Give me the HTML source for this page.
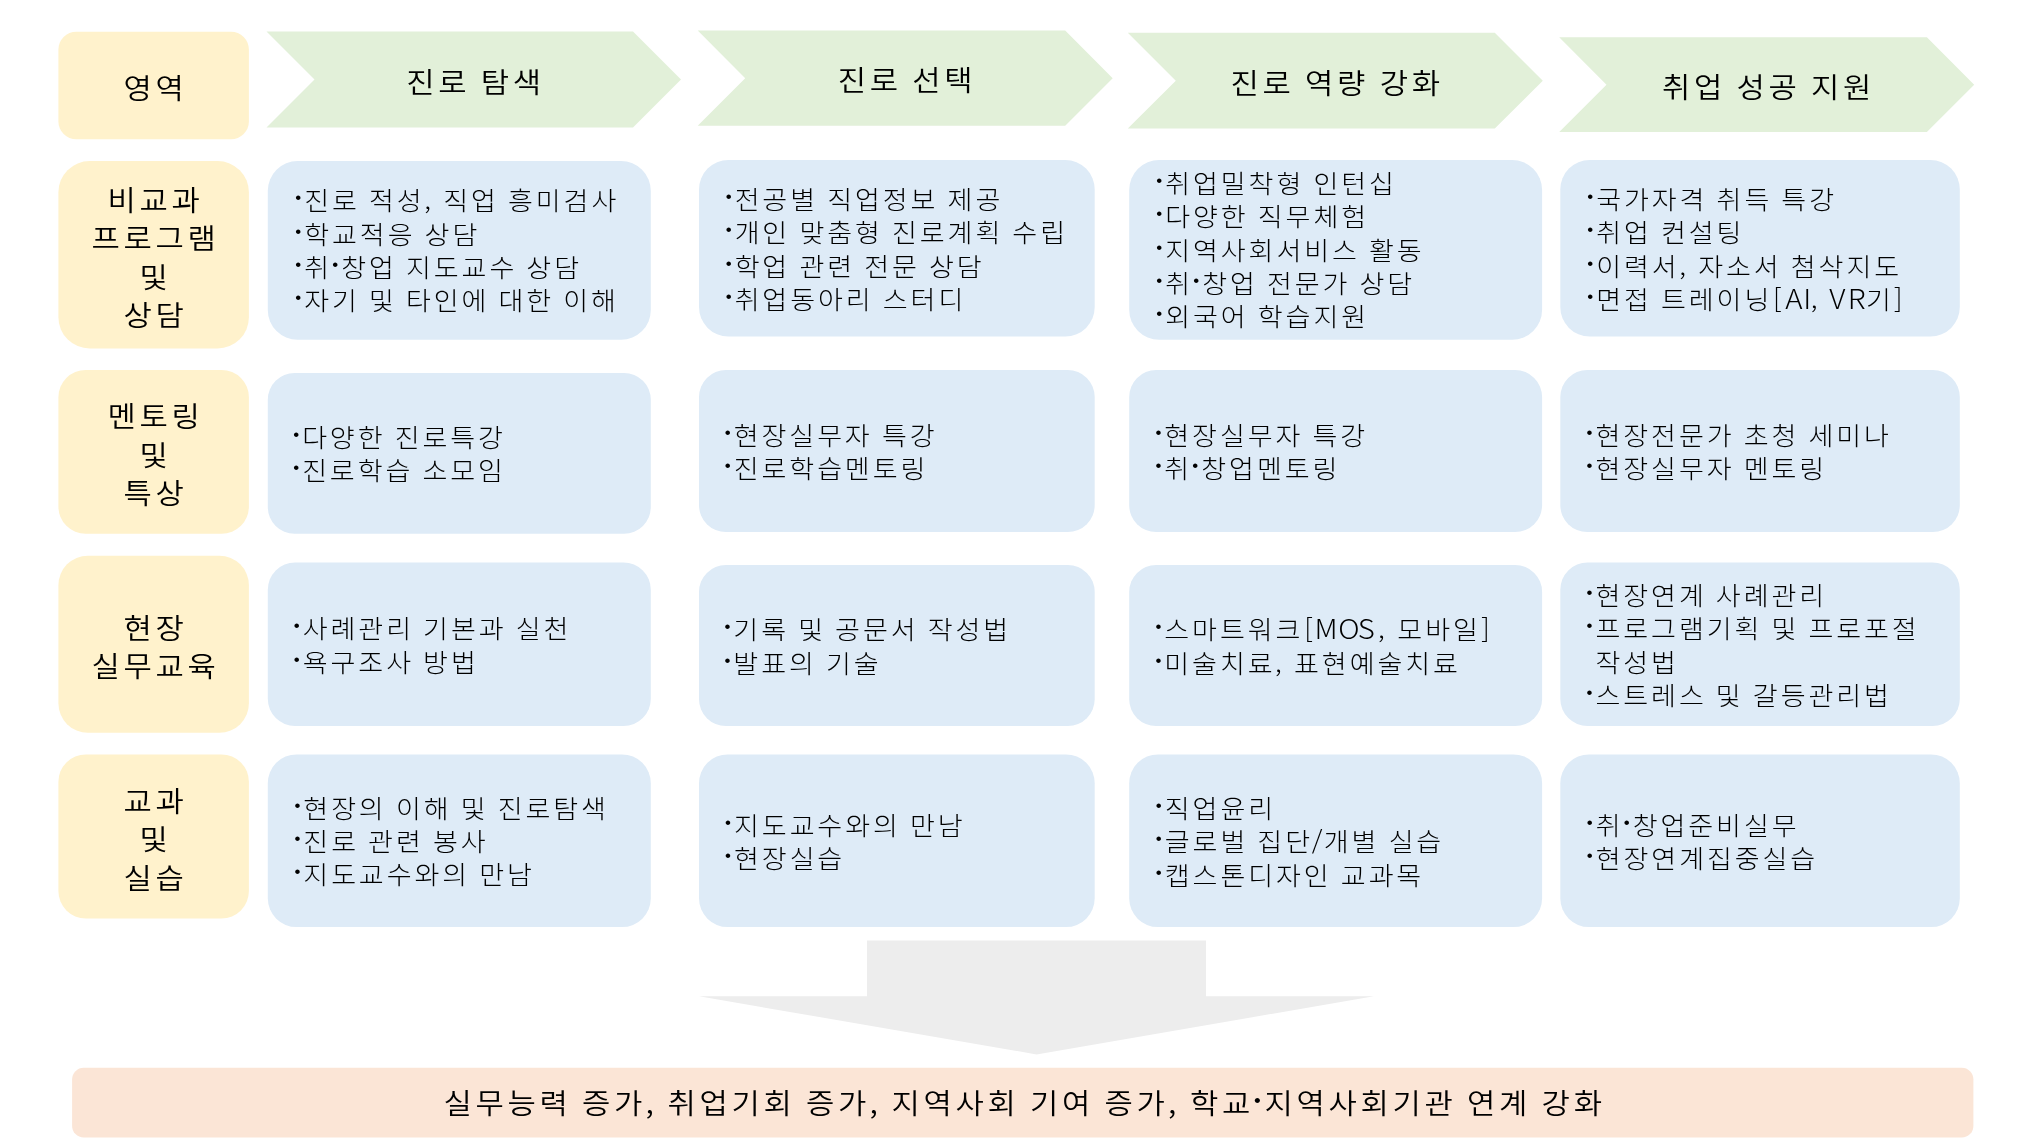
<!DOCTYPE html>
<html lang="ko">
<head>
<meta charset="utf-8">
<title>진로 로드맵</title>
<style>
html,body{margin:0;padding:0;background:#fff;}
body{width:2035px;height:1143px;overflow:hidden;}
svg{display:block;}
text{font-family:"Liberation Sans","Noto Sans CJK KR",sans-serif;fill:#000;white-space:pre;}
.b{font-size:25.3px;font-weight:300;}
.h{font-size:28.8px;font-weight:350;}
.l{font-family:"Noto Sans CJK KR","Liberation Sans",sans-serif;font-size:1.087em;}
.p{font-family:"Noto Sans CJK KR","Liberation Sans",sans-serif;}
.d{font-family:"Noto Sans CJK KR",sans-serif;font-weight:400;font-size:1.25em;}
</style>
</head>
<body>
<svg width="2035" height="1143" viewBox="0 0 2035 1143">
<g id="shapes">
<rect x="58.4" y="31.7" width="190.5" height="107.6" rx="17.9" ry="17.9" fill="#FFF2CC"/>
<polygon points="266.5,31.6 633.0,31.6 681.0,79.6 633.0,127.6 266.5,127.6 314.5,79.6" fill="#E2F0D9"/>
<polygon points="697.7,30.6 1065.2,30.6 1112.7,78.2 1065.2,125.7 697.7,125.7 745.2,78.2" fill="#E2F0D9"/>
<polygon points="1127.8,32.7 1494.8,32.7 1542.8,80.7 1494.8,128.6 1127.8,128.6 1175.8,80.7" fill="#E2F0D9"/>
<polygon points="1559.2,37.3 1926.9,37.3 1974.2,84.7 1926.9,132.0 1559.2,132.0 1606.5,84.7" fill="#E2F0D9"/>
<rect x="58.4" y="161.0" width="190.5" height="187.5" rx="31.3" ry="31.3" fill="#FFF2CC"/>
<rect x="58.4" y="370.0" width="190.5" height="163.8" rx="27.3" ry="27.3" fill="#FFF2CC"/>
<rect x="58.4" y="555.7" width="190.5" height="177.1" rx="29.5" ry="29.5" fill="#FFF2CC"/>
<rect x="58.4" y="754.4" width="190.5" height="164.1" rx="27.4" ry="27.4" fill="#FFF2CC"/>
<rect x="267.8" y="161.0" width="383.0" height="178.8" rx="29.8" ry="29.8" fill="#DEEBF7"/>
<rect x="699.0" y="160.0" width="395.7" height="176.5" rx="29.4" ry="29.4" fill="#DEEBF7"/>
<rect x="1129.2" y="160.0" width="412.9" height="179.8" rx="30.0" ry="30.0" fill="#DEEBF7"/>
<rect x="1560.3" y="160.0" width="399.5" height="176.5" rx="29.4" ry="29.4" fill="#DEEBF7"/>
<rect x="267.8" y="373.0" width="383.0" height="160.8" rx="26.8" ry="26.8" fill="#DEEBF7"/>
<rect x="699.0" y="370.0" width="395.7" height="162.1" rx="27.0" ry="27.0" fill="#DEEBF7"/>
<rect x="1129.2" y="370.0" width="412.9" height="162.1" rx="27.0" ry="27.0" fill="#DEEBF7"/>
<rect x="1560.3" y="370.0" width="399.5" height="162.1" rx="27.0" ry="27.0" fill="#DEEBF7"/>
<rect x="267.8" y="562.4" width="383.0" height="163.7" rx="27.3" ry="27.3" fill="#DEEBF7"/>
<rect x="699.0" y="565.0" width="395.7" height="161.1" rx="26.9" ry="26.9" fill="#DEEBF7"/>
<rect x="1129.2" y="565.0" width="412.9" height="161.1" rx="26.9" ry="26.9" fill="#DEEBF7"/>
<rect x="1560.3" y="562.4" width="399.5" height="163.7" rx="27.3" ry="27.3" fill="#DEEBF7"/>
<rect x="267.8" y="754.4" width="383.0" height="172.7" rx="28.8" ry="28.8" fill="#DEEBF7"/>
<rect x="699.0" y="754.4" width="395.7" height="172.7" rx="28.8" ry="28.8" fill="#DEEBF7"/>
<rect x="1129.2" y="754.4" width="412.9" height="172.7" rx="28.8" ry="28.8" fill="#DEEBF7"/>
<rect x="1560.3" y="754.4" width="399.5" height="172.7" rx="28.8" ry="28.8" fill="#DEEBF7"/>
<polygon points="867.0,940.6 1206.0,940.6 1206.0,996.3 1373.9,996.3 1036.5,1054.4 699.1,996.3 867.0,996.3" fill="#EDEDED"/>
<rect x="72.1" y="1067.8" width="1901.3" height="69.7" rx="11.6" ry="11.6" fill="#FBE5D6"/>
</g>
<g id="labels" style="will-change:transform" transform="scale(1.07,1)">
<text class="h" y="98.6" x="115.4 145.3">영역</text>
<text class="h" y="92.7" x="379.7 409.6 437.8 449.4 479.3">진로 탐색</text>
<text class="h" y="91.2" x="782.9 812.8 841.0 852.6 882.5">진로 선택</text>
<text class="h" y="93.8" x="1150.1 1180.0 1208.2 1219.7 1249.6 1277.9 1289.4 1319.3">진로 역량 강화</text>
<text class="h" y="97.8" x="1553.2 1583.1 1611.3 1622.9 1652.8 1681.0 1692.6 1722.5">취업 성공 지원</text>
<text class="h" y="210.8" x="100.4 130.4 160.3">비교과</text>
<text class="h" y="249.2" x="85.5 115.4 145.3 175.2">프로그램</text>
<text class="h" y="287.7" x="130.4">및</text>
<text class="h" y="326.1" x="115.4 145.3">상담</text>
<text class="h" y="427.2" x="100.4 130.4 160.3">멘토링</text>
<text class="h" y="465.6" x="130.4">및</text>
<text class="h" y="504.0" x="115.4 145.3">특상</text>
<text class="h" y="638.8" x="115.4 145.3">현장</text>
<text class="h" y="677.2" x="85.5 115.4 145.3 175.2">실무교육</text>
<text class="h" y="811.8" x="115.4 145.3">교과</text>
<text class="h" y="850.2" x="130.4">및</text>
<text class="h" y="888.6" x="115.4 145.3">실습</text>
<text class="b" y="210.3" x="274.3 284.3 310.3 334.9 344.9 370.8 396.5 404.2 414.2 440.2 464.8 474.7 500.7 526.7 552.7"><tspan class="d">·</tspan>진로 적성<tspan class="p">,</tspan> 직업 흥미검사</text>
<text class="b" y="243.6" x="274.3 284.3 310.3 336.3 362.3 386.9 396.8 422.8"><tspan class="d">·</tspan>학교적응 상담</text>
<text class="b" y="276.9" x="274.3 284.3 308.9 318.9 344.9 369.5 379.4 405.4 431.4 457.4 482.0 491.9 517.9"><tspan class="d">·</tspan>취<tspan class="d">·</tspan>창업 지도교수 상담</text>
<text class="b" y="310.2" x="274.3 284.3 310.3 334.9 344.9 369.5 379.4 405.4 431.4 456.0 465.9 491.9 516.5 526.5 552.4"><tspan class="d">·</tspan>자기 및 타인에 대한 이해</text>
<text class="b" y="209.1" x="676.6 686.6 712.5 738.5 763.2 773.1 799.1 825.0 851.0 875.7 885.6 911.6"><tspan class="d">·</tspan>전공별 직업정보 제공</text>
<text class="b" y="242.3" x="676.6 686.6 712.5 737.2 747.1 773.1 799.1 823.7 833.6 859.6 885.6 911.6 936.2 946.1 972.1"><tspan class="d">·</tspan>개인 맞춤형 진로계획 수립</text>
<text class="b" y="275.6" x="676.6 686.6 712.5 737.2 747.1 773.1 797.7 807.6 833.6 858.2 868.2 894.2"><tspan class="d">·</tspan>학업 관련 전문 상담</text>
<text class="b" y="308.9" x="676.6 686.6 712.5 738.5 764.5 790.5 815.1 825.0 851.0 877.0"><tspan class="d">·</tspan>취업동아리 스터디</text>
<text class="b" y="193.2" x="1079.0 1089.0 1115.0 1141.0 1166.9 1192.9 1217.5 1227.5 1253.5 1279.4"><tspan class="d">·</tspan>취업밀착형 인턴십</text>
<text class="b" y="226.5" x="1079.0 1089.0 1115.0 1141.0 1165.6 1175.5 1201.5 1227.5 1253.5"><tspan class="d">·</tspan>다양한 직무체험</text>
<text class="b" y="259.8" x="1079.0 1089.0 1115.0 1141.0 1166.9 1192.9 1218.9 1244.9 1269.5 1279.4 1305.4"><tspan class="d">·</tspan>지역사회서비스 활동</text>
<text class="b" y="293.1" x="1079.0 1089.0 1113.6 1123.5 1149.5 1174.2 1184.1 1210.1 1236.0 1260.7 1270.6 1296.6"><tspan class="d">·</tspan>취<tspan class="d">·</tspan>창업 전문가 상담</text>
<text class="b" y="326.4" x="1079.0 1089.0 1115.0 1141.0 1165.6 1175.5 1201.5 1227.5 1253.5"><tspan class="d">·</tspan>외국어 학습지원</text>
<text class="b" y="209.1" x="1481.8 1491.8 1517.8 1543.8 1569.7 1594.4 1604.3 1630.3 1654.9 1664.8 1690.8"><tspan class="d">·</tspan>국가자격 취득 특강</text>
<text class="b" y="242.3" x="1481.8 1491.8 1517.8 1542.4 1552.3 1578.3 1604.3"><tspan class="d">·</tspan>취업 컨설팅</text>
<text class="b" y="275.6" x="1481.8 1491.8 1517.8 1543.8 1569.4 1577.2 1587.1 1613.1 1639.1 1663.7 1673.6 1699.6 1725.6 1751.6"><tspan class="d">·</tspan>이력서<tspan class="p">,</tspan> 자소서 첨삭지도</text>
<text class="b" y="308.9" x="1481.8 1491.8 1517.8 1542.4 1552.3 1578.3 1604.3 1630.3 1657.1 1668.4 1685.2 1692.3 1700.1 1709.7 1726.8 1743.9 1770.2"><tspan class="d">·</tspan>면접 트레이닝<tspan class="p">[</tspan><tspan class="l">AI</tspan><tspan class="p">,</tspan> <tspan class="l">VR</tspan>기<tspan class="p">]</tspan></text>
<text class="b" y="447.1" x="272.4 282.4 308.3 334.3 358.9 368.9 394.9 420.8 446.8"><tspan class="d">·</tspan>다양한 진로특강</text>
<text class="b" y="480.4" x="272.4 282.4 308.3 334.3 360.3 384.9 394.9 420.8 446.8"><tspan class="d">·</tspan>진로학습 소모임</text>
<text class="b" y="445.1" x="675.7 685.7 711.7 737.7 763.7 789.6 814.3 824.2 850.2"><tspan class="d">·</tspan>현장실무자 특강</text>
<text class="b" y="478.3" x="675.7 685.7 711.7 737.7 763.7 789.6 815.6 841.6"><tspan class="d">·</tspan>진로학습멘토링</text>
<text class="b" y="445.1" x="1078.2 1088.2 1114.1 1140.1 1166.1 1192.1 1216.7 1226.6 1252.6"><tspan class="d">·</tspan>현장실무자 특강</text>
<text class="b" y="478.3" x="1078.2 1088.2 1112.7 1122.7 1148.7 1174.7 1200.6 1226.6"><tspan class="d">·</tspan>취<tspan class="d">·</tspan>창업멘토링</text>
<text class="b" y="445.1" x="1481.2 1491.1 1517.1 1543.1 1569.1 1595.1 1619.7 1629.6 1655.6 1680.2 1690.2 1716.1 1742.1"><tspan class="d">·</tspan>현장전문가 초청 세미나</text>
<text class="b" y="478.3" x="1481.2 1491.1 1517.1 1543.1 1569.1 1595.1 1619.7 1629.6 1655.6 1681.6"><tspan class="d">·</tspan>현장실무자 멘토링</text>
<text class="b" y="638.3" x="272.9 282.9 308.9 334.9 360.9 385.5 395.4 421.4 447.4 472.0 481.9 507.9"><tspan class="d">·</tspan>사례관리 기본과 실천</text>
<text class="b" y="671.6" x="272.9 282.9 308.9 334.9 360.9 385.5 395.4 421.4"><tspan class="d">·</tspan>욕구조사 방법</text>
<text class="b" y="639.3" x="675.5 685.4 711.4 736.1 746.0 770.6 780.5 806.5 832.5 857.1 867.0 893.0 919.0"><tspan class="d">·</tspan>기록 및 공문서 작성법</text>
<text class="b" y="672.6" x="675.5 685.4 711.4 737.4 762.0 772.0 797.9"><tspan class="d">·</tspan>발표의 기술</text>
<text class="b" y="639.3" x="1078.2 1088.2 1114.1 1140.1 1166.1 1192.1 1218.9 1228.6 1250.6 1269.0 1287.9 1295.7 1305.9 1331.9 1357.9 1384.3"><tspan class="d">·</tspan>스마트워크<tspan class="p">[</tspan><tspan class="l">MOS</tspan><tspan class="p">,</tspan> 모바일<tspan class="p">]</tspan></text>
<text class="b" y="672.6" x="1078.2 1088.2 1114.1 1140.1 1166.1 1191.7 1199.5 1209.4 1235.4 1261.4 1287.4 1313.4 1339.3"><tspan class="d">·</tspan>미술치료<tspan class="p">,</tspan> 표현예술치료</text>
<text class="b" y="605.1" x="1481.2 1491.1 1517.1 1543.1 1569.1 1593.7 1603.6 1629.6 1655.6 1681.6"><tspan class="d">·</tspan>현장연계 사례관리</text>
<text class="b" y="638.5" x="1481.2 1491.1 1517.1 1543.1 1569.1 1595.1 1621.0 1645.7 1655.6 1680.2 1690.2 1716.1 1742.1 1768.1"><tspan class="d">·</tspan>프로그램기획 및 프로포절</text>
<text class="b" y="671.8" x="1491.1 1517.1 1543.1">작성법</text>
<text class="b" y="705.1" x="1481.2 1491.1 1517.1 1543.1 1569.1 1593.7 1603.6 1628.3 1638.2 1664.2 1690.2 1716.1 1742.1"><tspan class="d">·</tspan>스트레스 및 갈등관리법</text>
<text class="b" y="817.6" x="273.5 283.5 309.5 335.4 360.1 370.0 396.0 420.6 430.5 455.2 465.1 491.1 517.0 543.0"><tspan class="d">·</tspan>현장의 이해 및 진로탐색</text>
<text class="b" y="850.9" x="273.5 283.5 309.5 334.1 344.0 370.0 394.6 404.6 430.5"><tspan class="d">·</tspan>진로 관련 봉사</text>
<text class="b" y="884.2" x="273.5 283.5 309.5 335.4 361.4 387.4 413.4 438.0 447.9 473.9"><tspan class="d">·</tspan>지도교수와의 만남</text>
<text class="b" y="834.8" x="676.0 686.0 712.0 738.0 763.9 789.9 815.9 840.5 850.5 876.4"><tspan class="d">·</tspan>지도교수와의 만남</text>
<text class="b" y="868.0" x="676.0 686.0 712.0 738.0 763.9"><tspan class="d">·</tspan>현장실습</text>
<text class="b" y="818.1" x="1078.6 1088.6 1114.6 1140.6 1166.6"><tspan class="d">·</tspan>직업윤리</text>
<text class="b" y="851.4" x="1078.6 1088.6 1114.6 1140.6 1165.2 1175.1 1201.1 1225.9 1237.2 1263.2 1287.8 1297.8 1323.7"><tspan class="d">·</tspan>글로벌 집단<tspan class="p">/</tspan>개별 실습</text>
<text class="b" y="884.7" x="1078.6 1088.6 1114.6 1140.6 1166.6 1192.5 1218.5 1243.2 1253.1 1279.1 1305.0"><tspan class="d">·</tspan>캡스톤디자인 교과목</text>
<text class="b" y="834.8" x="1481.3 1491.3 1515.9 1525.9 1551.9 1577.8 1603.8 1629.8 1655.8"><tspan class="d">·</tspan>취<tspan class="d">·</tspan>창업준비실무</text>
<text class="b" y="868.0" x="1481.3 1491.3 1517.3 1543.3 1569.3 1595.3 1621.2 1647.2 1673.2"><tspan class="d">·</tspan>현장연계집중실습</text>
<text class="h" y="1114.5" x="414.5 444.4 474.3 504.3 532.5 544.0 573.9 603.3 612.2 623.8 653.7 683.6 713.5 741.7 753.3 783.2 812.6 821.5 833.1 863.0 892.9 922.8 951.0 962.6 992.5 1020.7 1032.3 1062.2 1091.6 1100.5 1112.1 1142.0 1170.2 1181.8 1211.7 1241.6 1271.5 1301.4 1331.3 1359.5 1371.1 1401.0 1429.2 1440.7 1470.7">실무능력 증가<tspan class="p">,</tspan> 취업기회 증가<tspan class="p">,</tspan> 지역사회 기여 증가<tspan class="p">,</tspan> 학교<tspan class="d">·</tspan>지역사회기관 연계 강화</text>
</g>
</svg>
</body>
</html>
